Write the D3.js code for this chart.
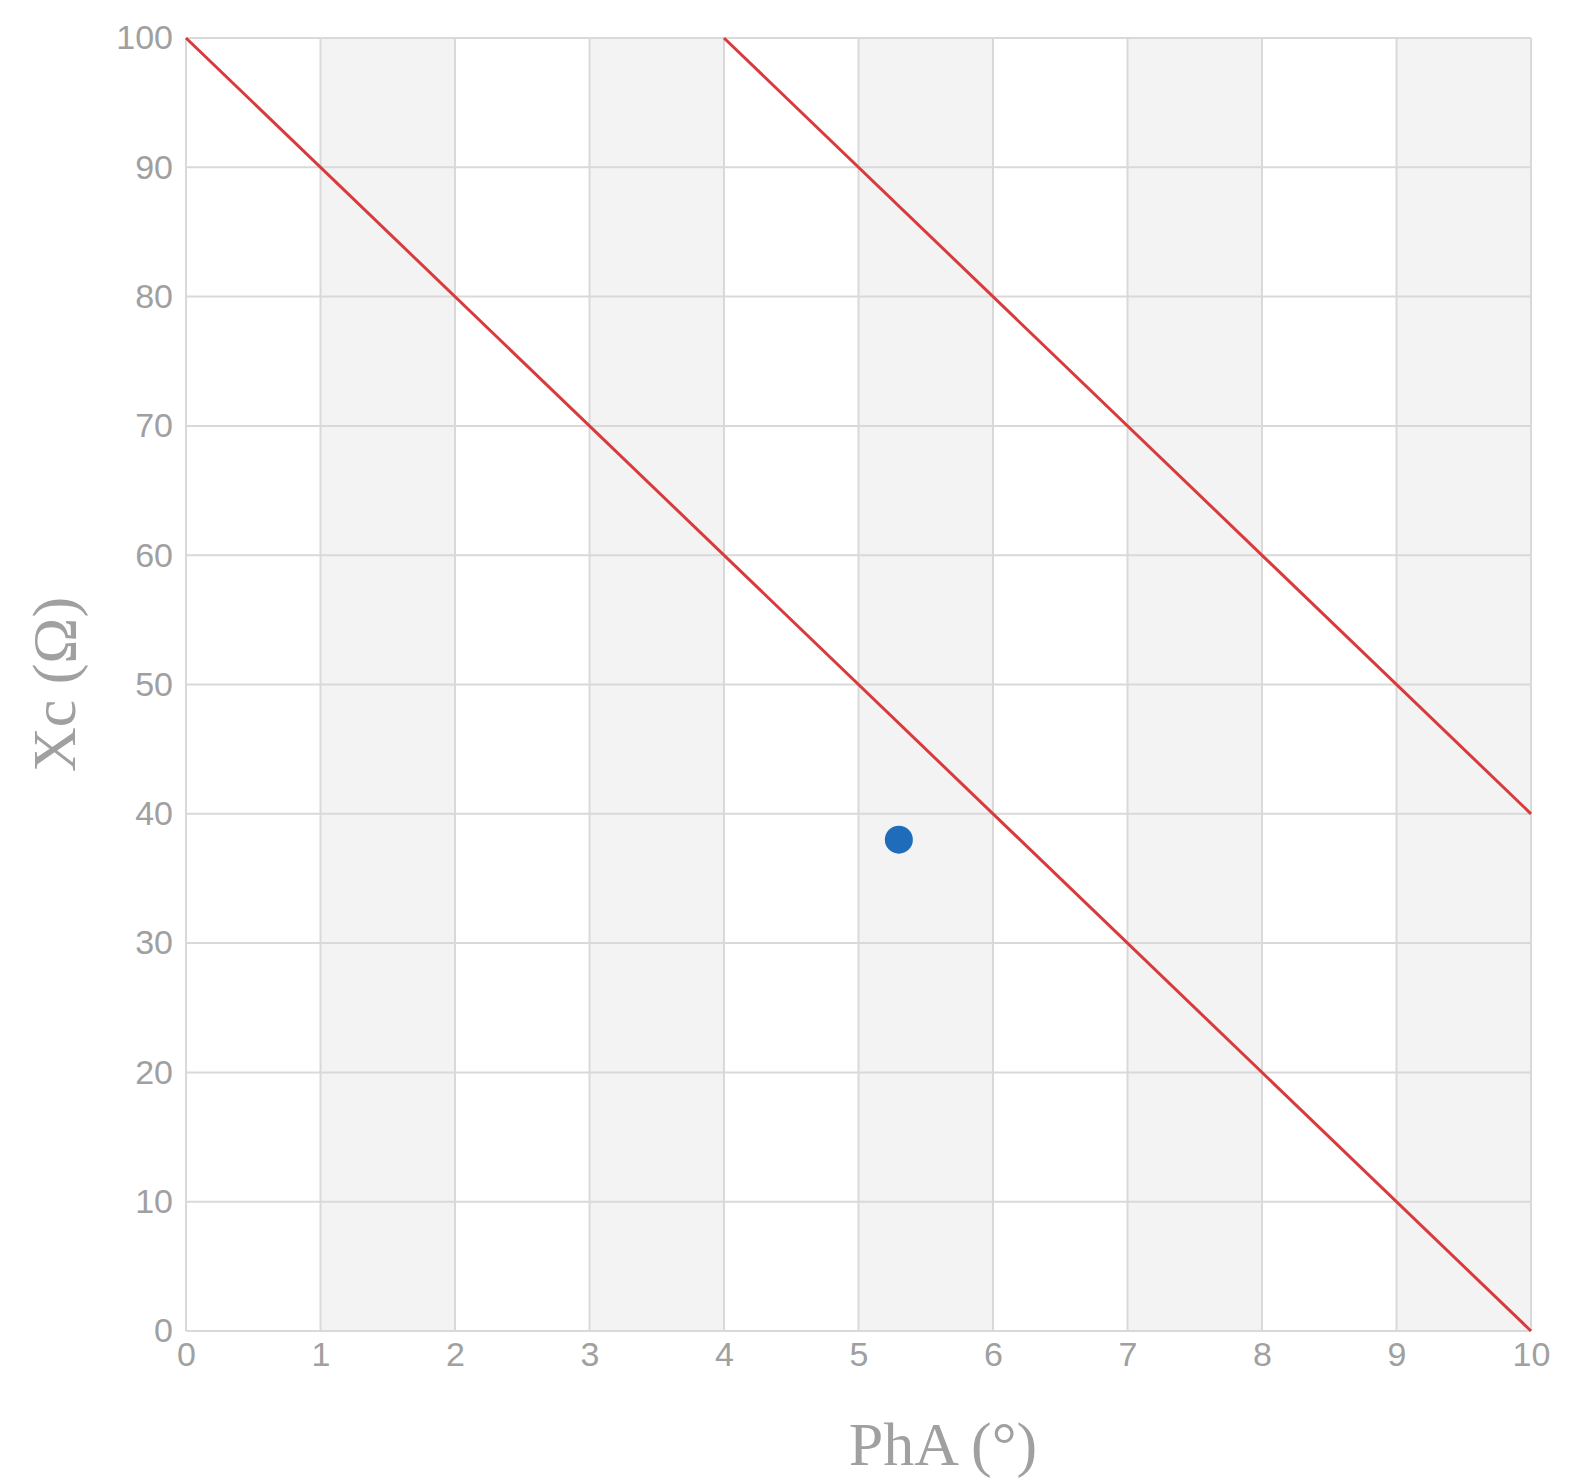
<!DOCTYPE html>
<html>
<head>
<meta charset="utf-8">
<script src="https://cdn.jsdelivr.net/npm/d3@7"></script>
<style>
  body { margin: 0; background: #fff; }
  .tick text { fill: #a0a0a0; font-family: Arial, "Liberation Sans", sans-serif; font-size: 34px; }
  .title { fill: #a0a0a0; font-family: "Times New Roman", "Liberation Serif", serif; font-size: 62px; }
</style>
</head>
<body>
<div id="chart"></div>
<script>
// data
var xTicks = [0, 1, 2, 3, 4, 5, 6, 7, 8, 9, 10],
    yTicks = [0, 10, 20, 30, 40, 50, 60, 70, 80, 90, 100],
    lowerLine = [[0, 100], [10, 0]],
    upperLine = [[4, 100], [10, 40]],
    points = [[5.3, 38]];

var margin = { top: 38, right: 56, bottom: 148, left: 186 },
    width = 1587 - margin.left - margin.right,
    height = 1479 - margin.top - margin.bottom;

var svg = d3.select("#chart").append("svg")
    .attr("width", 1587)
    .attr("height", 1479);

var g = svg.append("g")
    .attr("transform", "translate(" + margin.left + "," + margin.top + ")");

var x = d3.scaleLinear().domain([0, 10]).range([0, width]);
var y = d3.scaleLinear().domain([0, 100]).range([height, 0]);

// shaded bands on every other column
g.selectAll(".band")
    .data(xTicks.slice(0, -1).filter(function (d, i) { return i % 2 == 1; }))
    .enter().append("rect")
    .attr("class", "band")
    .attr("x", function (d) { return x(d); })
    .attr("y", 0)
    .attr("width", function (d) { return x(d + 1) - x(d); })
    .attr("height", height)
    .style("fill", "#f3f3f3");

// grid
g.selectAll(".vgrid")
    .data(xTicks)
    .enter().append("line")
    .attr("class", "vgrid")
    .attr("x1", function (d) { return x(d); })
    .attr("x2", function (d) { return x(d); })
    .attr("y1", 0)
    .attr("y2", height)
    .style("stroke", "#d9d9d9")
    .style("stroke-width", 2);

g.selectAll(".hgrid")
    .data(yTicks)
    .enter().append("line")
    .attr("class", "hgrid")
    .attr("x1", 0)
    .attr("x2", width)
    .attr("y1", function (d) { return y(d); })
    .attr("y2", function (d) { return y(d); })
    .style("stroke", "#d9d9d9")
    .style("stroke-width", 2);

// axes (labels only)
var yAxis = g.append("g")
    .call(d3.axisLeft(y).tickValues(yTicks).tickSize(0).tickPadding(13));
yAxis.select(".domain").remove();

var xAxis = g.append("g")
    .attr("transform", "translate(0," + height + ")")
    .call(d3.axisBottom(x).tickValues(xTicks).tickSize(0).tickPadding(11));
xAxis.select(".domain").remove();

// red lines
var line = d3.line()
    .x(function (d) { return x(d[0]); })
    .y(function (d) { return y(d[1]); });

g.selectAll(".redline")
    .data([lowerLine, upperLine])
    .enter().append("path")
    .attr("class", "redline")
    .attr("d", line)
    .style("fill", "none")
    .style("stroke", "#d93a3c")
    .style("stroke-width", 3);

// point
g.selectAll(".pt")
    .data(points)
    .enter().append("circle")
    .attr("class", "pt")
    .attr("cx", function (d) { return x(d[0]); })
    .attr("cy", function (d) { return y(d[1]); })
    .attr("r", 14)
    .style("fill", "#1f6dba");

// axis titles
svg.append("text")
    .attr("class", "title")
    .attr("x", 943)
    .attr("y", 1465)
    .style("text-anchor", "middle")
    .text("PhA (°)");

svg.append("text")
    .attr("class", "title")
    .attr("transform", "translate(75," + (margin.top + height / 2) + ") rotate(-90)")
    .style("text-anchor", "middle")
    .text("Xc (Ω)");
</script>
</body>
</html>
